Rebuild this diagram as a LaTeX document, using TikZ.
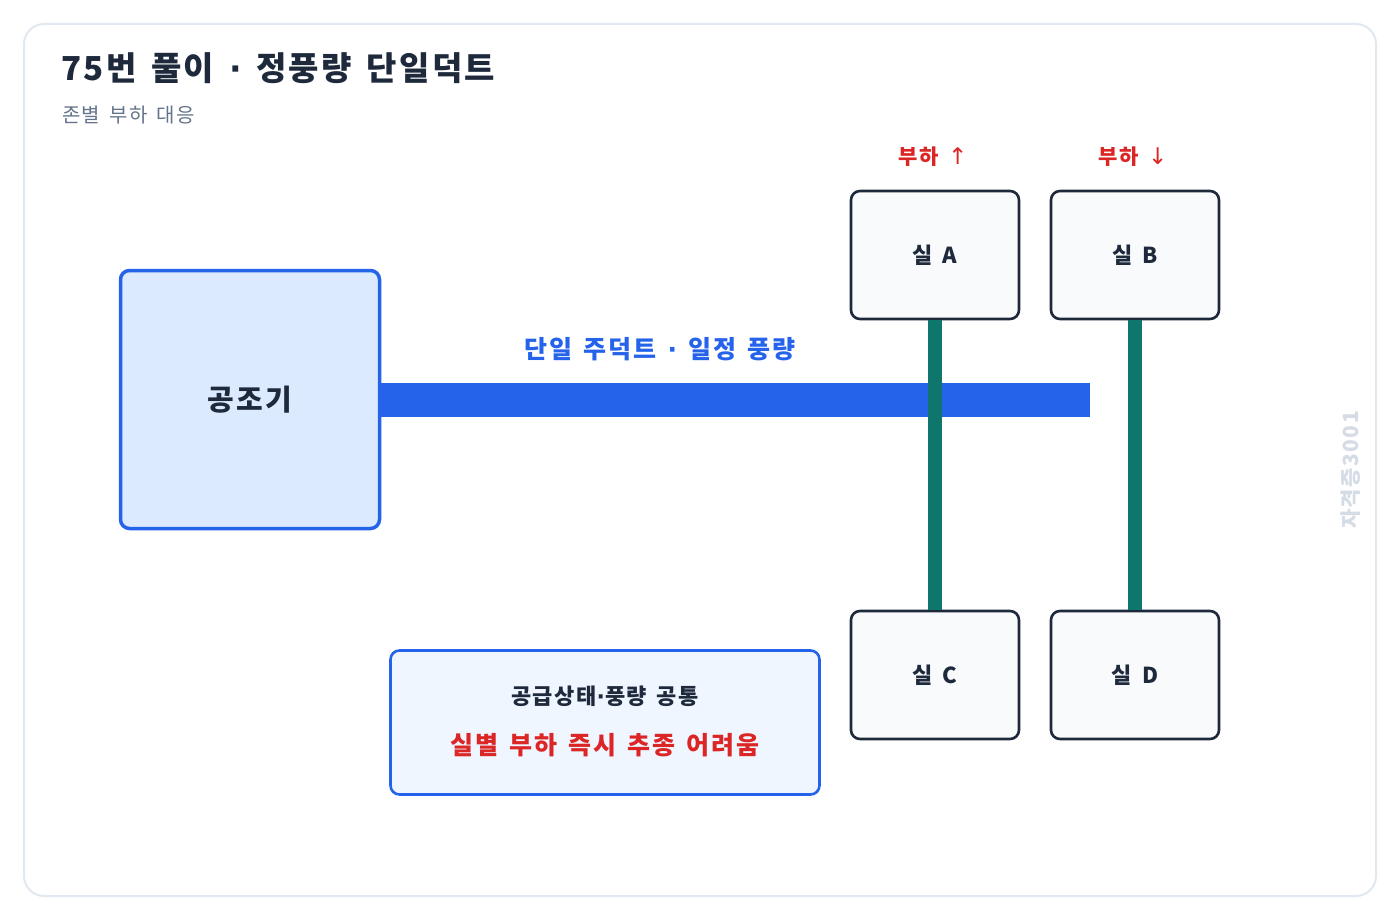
\documentclass[tikz,border=0pt]{standalone}
\usepackage{fontspec}
\setmainfont{Noto Sans CJK KR}[LetterSpace=7, WordSpace=1.5]
\newfontfamily\symfont{DejaVu Sans}
\newcommand{\mdot}{{\symfont\bfseries ·}}
\definecolor{frameC}{HTML}{E2E8F0}
\definecolor{titleC}{HTML}{1E293B}
\definecolor{subC}{HTML}{64748B}
\definecolor{blueC}{HTML}{2563EB}
\definecolor{ahuFill}{HTML}{DBEAFE}
\definecolor{roomFill}{HTML}{F8FAFC}
\definecolor{noteFill}{HTML}{EFF6FF}
\definecolor{tealC}{HTML}{0F766E}
\definecolor{redC}{HTML}{DC2626}
\definecolor{wmC}{HTML}{D5DCE5}
\tikzset{
  room/.style={draw=titleC, line width=2.6pt, fill=roomFill, rounded corners=9pt,
    minimum width=168pt, minimum height=128pt, inner sep=0pt, text=titleC,
    font=\fontsize{22pt}{26pt}\selectfont\bfseries},
  branch/.style={draw=tealC, line width=14pt},
  loadlbl/.style={text=redC, font=\fontsize{21pt}{25pt}\selectfont\bfseries},
}
\begin{document}
\begin{tikzpicture}[x=1pt,y=-1pt]
\useasboundingbox (0,0) rectangle (1400,920);
\fill[white] (0,0) rectangle (1400,920);
\draw[frameC, line width=2pt, rounded corners=20pt] (24,24) rectangle (1376,896);
\node[anchor=base west, inner sep=0pt, text=titleC, font=\fontsize{33pt}{38pt}\selectfont\bfseries] (title) at (61,81) {75번 풀이 \mdot{} 정풍량 단일덕트};
\node[anchor=base west, inner sep=0pt, text=subC, font=\fontsize{20pt}{23pt}\selectfont] (sub) at (62,123) {존별 부하 대응};
% AHU
\node[draw=blueC, line width=3.5pt, fill=ahuFill, rounded corners=9pt, minimum width=259pt, minimum height=258pt, inner sep=0pt, text=titleC, font=\fontsize{29pt}{32pt}\selectfont\bfseries] (ahu) at (250,399.5) {공조기};
% duct
\coordinate (ductend) at (1090,400);
\fill[blueC] ([yshift=17pt]ahu.east) rectangle ([yshift=-17pt]ductend);
\node[text=blueC, font=\fontsize{25pt}{30pt}\selectfont\bfseries] (ductlbl) at (660,349) {단일 주덕트 \mdot{} 일정 풍량};
% rooms
\node[room] (ra) at (935,255) {실 A};
\node[room] (rb) at (1135,255) {실 B};
\node[room] (rc) at (935,675) {실 C};
\node[room] (rd) at (1135,675) {실 D};
\draw[branch] (ra.south) -- (rc.north);
\draw[branch] (rb.south) -- (rd.north);
\node[loadlbl] (la) at (933,157) {부하 {\symfont\fontsize{23pt}{25pt}\selectfont\mdseries ↑}};
\node[loadlbl] (lb) at (1133,157) {부하 {\symfont\fontsize{23pt}{25pt}\selectfont\mdseries ↓}};
% note
\node[draw=blueC, line width=2.6pt, fill=noteFill, rounded corners=9pt, minimum width=429pt, minimum height=144pt, inner sep=0pt] (note) at (605,722.5) {};
\node[text=titleC, font=\fontsize{22pt}{26pt}\selectfont\bfseries] (n1) at (605,696) {공급상태\mdot{}풍량 공통};
\node[text=redC, font=\fontsize{25pt}{28pt}\selectfont\bfseries] (n2) at (605,745) {실별 부하 즉시 추종 어려움};
% watermark
\node[rotate=90, text=wmC, font=\fontsize{21pt}{24pt}\selectfont\bfseries] (wm) at (1351,470) {자격증3001};
\end{tikzpicture}
\end{document}
